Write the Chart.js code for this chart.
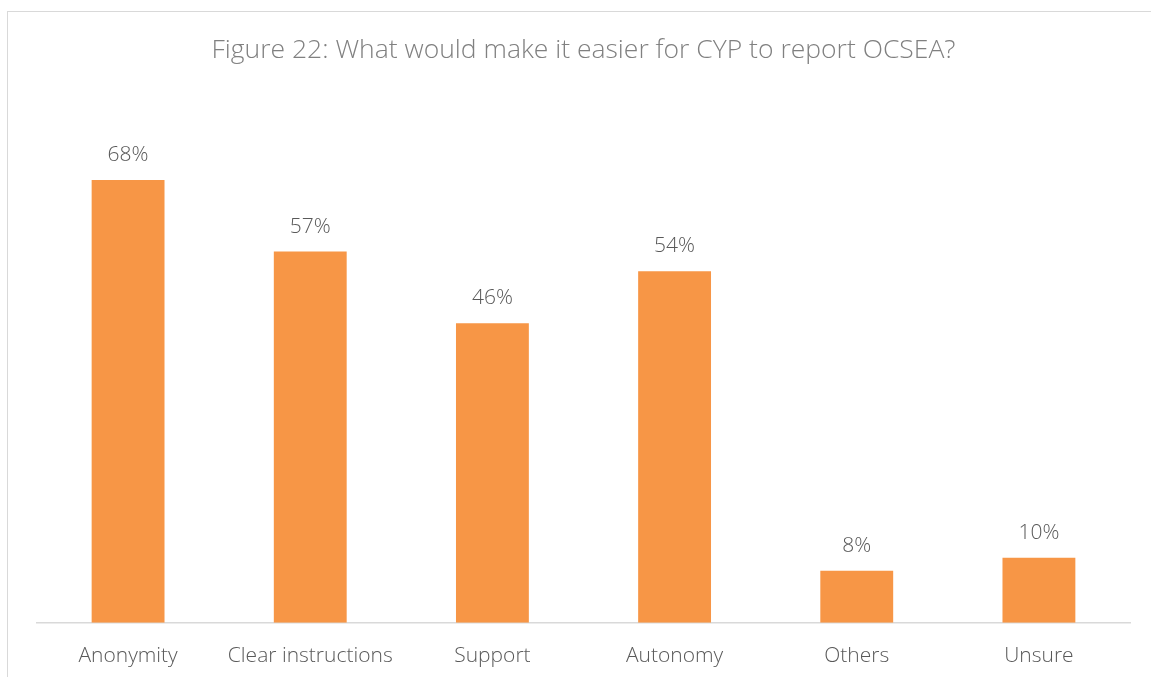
<!DOCTYPE html>
<html>
<head>
<meta charset="utf-8">
<script src="https://cdn.jsdelivr.net/npm/chart.js@4"></script>
<style>
  html, body { margin: 0; padding: 0; background: #fff; overflow: hidden; width: 1151px; height: 677px; }
  .frame {
    position: absolute; left: 7px; top: 11px;
    width: 1170px; height: 700px;
    border: 1.5px solid #d9d9d9;
  }
  #chart { position: absolute; left: 0; top: 0; }
</style>
</head>
<body>
<div class="frame"></div>
<canvas id="chart" width="1151" height="693"></canvas>
<script>
const categories = ['Anonymity', 'Clear instructions', 'Support', 'Autonomy', 'Others', 'Unsure'];
const shares = [68, 57, 46, 54, 8, 10];

const FONT = "'Open Sans', 'Noto Sans', sans-serif";

// percent labels above each bar
const barLabels = {
  id: 'barLabels',
  afterDatasetsDraw(chart) {
    const ctx = chart.ctx;
    const meta = chart.getDatasetMeta(0);
    ctx.save();
    ctx.font = '300 21px ' + FONT;
    ctx.fillStyle = '#595959';
    ctx.textAlign = 'center';
    ctx.textBaseline = 'middle';
    meta.data.forEach((bar, i) => {
      ctx.fillText(shares[i] + '%', bar.x, bar.y - 25);
    });
    ctx.restore();
  }
};

new Chart(document.getElementById('chart'), {
  type: 'bar',
  plugins: [barLabels],
  data: {
    labels: categories,
    datasets: [{
      data: shares,
      backgroundColor: '#f79646',
      borderWidth: 0,
      barPercentage: 0.4,
      categoryPercentage: 1.0
    }]
  },
  options: {
    responsive: false,
    animation: false,
    layout: { padding: { left: 37, right: 21, top: 0, bottom: 11 } },
    plugins: {
      legend: { display: false },
      tooltip: { enabled: false },
      title: {
        display: true,
        text: 'Figure 22: What would make it easier for CYP to report OCSEA?',
        color: '#808080',
        font: { family: FONT, size: 26.5, weight: '300' },
        padding: { top: 35, bottom: 35 }
      }
    },
    scales: {
      x: {
        grid: { display: false },
        border: { display: true, color: '#d9d9d9', width: 1.5 },
        ticks: {
          color: '#595959',
          padding: 13,
          font: { family: FONT, size: 21, weight: '300' }
        }
      },
      y: {
        display: false,
        min: 0,
        max: 80
      }
    }
  }
});
</script>
</body>
</html>
